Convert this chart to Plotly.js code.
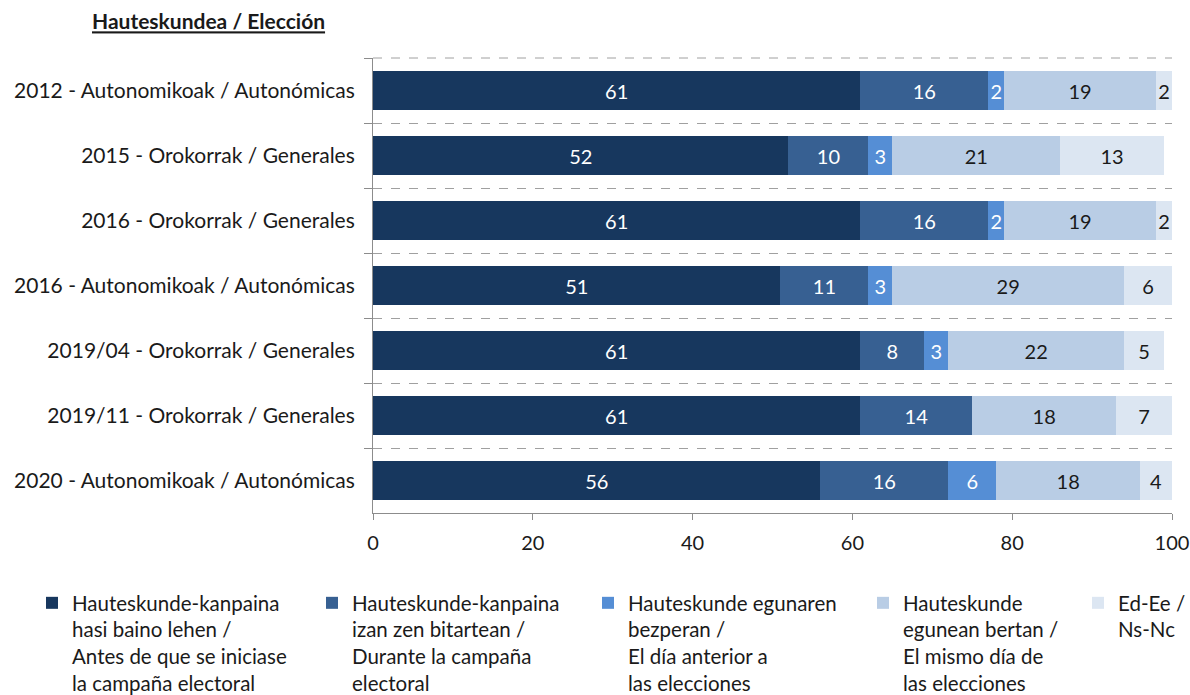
<!DOCTYPE html>
<html>
<head>
<meta charset="utf-8">
<script src="https://cdn.plot.ly/plotly-3.0.1.min.js"></script>
<style>html,body{margin:0;padding:0;background:#fff;}#chart{width:1190px;height:695px;}</style>
</head>
<body>
<div id="chart"></div>
<script>
const categories = [
  "2012 - Autonomikoak / Autonómicas",
  "2015 - Orokorrak / Generales",
  "2016 - Orokorrak / Generales",
  "2016 - Autonomikoak / Autonómicas",
  "2019/04 - Orokorrak / Generales",
  "2019/11 - Orokorrak / Generales",
  "2020 - Autonomikoak / Autonómicas"
];
const seriesNames = [
  "Hauteskunde-kanpaina<br>hasi baino lehen /<br>Antes de que se iniciase<br>la campaña electoral",
  "Hauteskunde-kanpaina<br>izan zen bitartean /<br>Durante la campaña<br>electoral",
  "Hauteskunde egunaren<br>bezperan /<br>El día anterior a<br>las elecciones",
  "Hauteskunde<br>egunean bertan /<br>El mismo día de<br>las elecciones",
  "Ed-Ee /<br>Ns-Nc"
];
const antesCampana   = [61, 52, 61, 51, 61, 61, 56];
const duranteCampana = [16, 10, 16, 11, 8, 14, 16];
const diaAnterior    = [2, 3, 2, 3, 3, 0, 6];
const mismoDia       = [19, 21, 19, 29, 22, 18, 18];
const nsnc           = [2, 13, 2, 6, 5, 7, 4];
const xTicks = [0, 20, 40, 60, 80, 100];

// styles
const colors = ["#17375E", "#376092", "#558ED5", "#B9CDE5", "#DCE6F2"];
const textColors = ["#ffffff", "#ffffff", "#ffffff", "#1a1a1a", "#1a1a1a"];
const legendWidths = [235, 231, 230, 170, 80];
const FONT = "Lato, 'Open Sans', sans-serif";

const values = [antesCampana, duranteCampana, diaAnterior, mismoDia, nsnc];

const traces = values.map((vals, i) => ({
  type: "bar",
  orientation: "h",
  name: seriesNames[i],
  y: categories,
  x: vals.map(v => v === 0 ? null : v),
  text: vals.map(v => v === 0 ? "" : String(v)),
  textposition: "inside",
  insidetextanchor: "middle",
  constraintext: "none",
  textangle: 0,
  textfont: {family: FONT, size: 20, color: textColors[i]},
  marker: {color: colors[i], line: {width: 0}},
  legendwidth: legendWidths[i],
  hoverinfo: "x+name"
}));

const plotTop = 58, plotBottom = 513, plotH = plotBottom - plotTop;

const layout = {
  width: 1190, height: 695,
  paper_bgcolor: "#fff", plot_bgcolor: "#fff",
  font: {family: FONT, size: 20, color: "#1a1a1a"},
  barmode: "stack",
  bargap: 0.415,
  margin: {l: 373, r: 18, t: plotTop, b: 695 - plotBottom, pad: 0, autoexpand: false},
  title: {
    text: "Hauteskundea / Elección",
    x: 92/1190, xanchor: "left", xref: "container",
    y: 1 - 22/695, yanchor: "middle", yref: "container",
    font: {family: FONT, size: 21, weight: "bold", lineposition: "under", color: "#1a1a1a"}
  },
  xaxis: {
    range: [0, 100],
    tickvals: xTicks,
    ticktext: xTicks.map(String),
    showgrid: false,
    zeroline: false,
    showline: true, linecolor: "#8c8c8c", linewidth: 1,
    ticks: "outside", ticklen: 6, tickcolor: "#8c8c8c",
    ticklabelstandoff: 6,
    tickfont: {family: FONT, size: 20, color: "#1a1a1a"},
    automargin: false,
    fixedrange: true
  },
  yaxis: {
    type: "category",
    autorange: "reversed",
    tickson: "boundaries",
    showgrid: true, gridcolor: "#a0a0a0", griddash: "dash", gridwidth: 1,
    showline: true, linecolor: "#8c8c8c", linewidth: 1,
    ticks: "outside", ticklen: 8, tickcolor: "#8c8c8c",
    ticklabelstandoff: 13,
    tickfont: {family: FONT, size: 21, color: "#1a1a1a"},
    zeroline: false,
    automargin: false,
    fixedrange: true
  },
  shapes: [{
    type: "line", xref: "paper", yref: "paper", x0: 0, x1: 1, y0: 1, y1: 1,
    line: {color: "#a0a0a0", width: 1, dash: "dash"}
  }],
  showlegend: true,
  legend: {
    orientation: "h",
    traceorder: "normal",
    x: (32 - 373) / 799, xref: "paper", xanchor: "left",
    y: -70 / plotH, yanchor: "top",
    valign: "top",
    font: {family: FONT, size: 20.5, color: "#1a1a1a"},
    itemwidth: 30,
    bgcolor: "rgba(0,0,0,0)"
  }
};

Plotly.newPlot("chart", traces, layout, {displayModeBar: false, staticPlot: true});
</script>
</body>
</html>
